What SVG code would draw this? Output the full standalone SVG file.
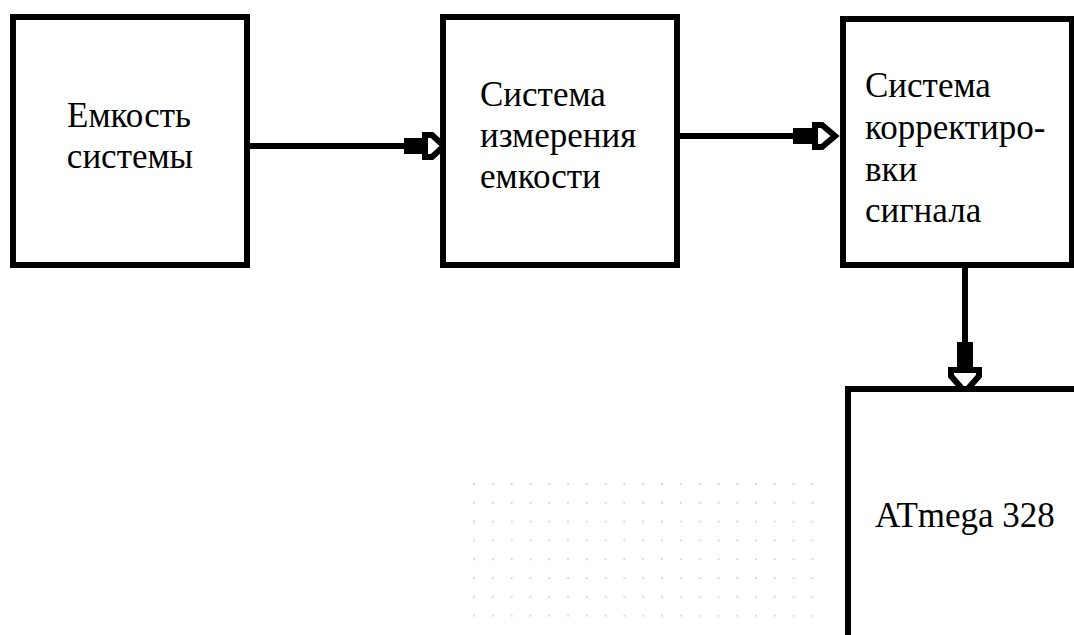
<svg xmlns="http://www.w3.org/2000/svg" width="1074" height="635" viewBox="0 0 1074 635">
  <defs>
    <style>
      .box { fill: #ffffff; stroke: #000000; stroke-width: 6; }
      .wire { stroke: #000000; stroke-width: 6; fill: none; }
      .shaft { fill: #000000; }
      .head { fill: #ffffff; stroke: #000000; stroke-width: 6; stroke-linejoin: miter; }
    </style>
    <pattern id="dots" x="473" y="483" width="18.8" height="18.8" patternUnits="userSpaceOnUse">
      <circle cx="1" cy="1" r="1.2" fill="#dadada"/>
    </pattern>
  </defs>
  <rect width="1074" height="635" fill="#ffffff"/>
  <rect x="470" y="480" width="350" height="145" fill="url(#dots)"/>

  <g id="connectors">
    <g id="c1">
      <line class="wire" x1="250" y1="146" x2="406" y2="146"/>
      <rect class="shaft" x="404" y="138" width="21" height="16"/>
      <polygon class="head" points="425,135 432,135 444,146 432,157 425,157"/>
    </g>
    <g id="c2">
      <line class="wire" x1="680" y1="136" x2="795" y2="136"/>
      <rect class="shaft" x="793" y="128" width="22" height="16"/>
      <polygon class="head" points="815,125 822,125 835,136 822,147 815,147"/>
    </g>
    <g id="c3">
      <line class="wire" x1="965" y1="268" x2="965" y2="345"/>
      <rect class="shaft" x="957" y="342" width="16" height="27"/>
      <polygon class="head" points="951,370 951,376 965,392 979,376 979,370"/>
    </g>
  </g>

  <g font-family="'Liberation Serif', 'DejaVu Serif', 'Times New Roman', serif" font-size="35" fill="#000000">
    <g id="n1">
      <rect class="box" x="13" y="17" width="234" height="248"/>
      <text x="129" y="127" text-anchor="middle">Емкость</text>
      <text x="130" y="168" text-anchor="middle">системы</text>
    </g>
    <g id="n2">
      <rect class="box" x="443" y="17" width="234" height="248"/>
      <text x="480" y="106">Система</text>
      <text x="480" y="147">измерения</text>
      <text x="480" y="188">емкости</text>
    </g>
    <g id="n3">
      <rect class="box" x="843" y="19" width="229" height="246"/>
      <text x="865" y="97">Система</text>
      <text x="865" y="139">корректиро-</text>
      <text x="865" y="181">вки</text>
      <text x="865" y="222">сигнала</text>
    </g>
    <g id="n4">
      <rect class="box" x="848" y="389" width="240" height="260"/>
      <text x="875" y="527">ATmega 328</text>
    </g>
  </g>
</svg>
